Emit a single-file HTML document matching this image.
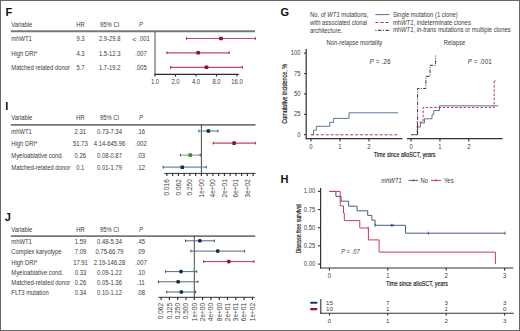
<!DOCTYPE html><html><head><meta charset="utf-8"><style>
html,body{margin:0;padding:0;background:#fff;font-family:"Liberation Sans",sans-serif;}
.wrap{position:relative;width:520px;height:331px;overflow:hidden;background:#fff;}
.wrap svg{position:absolute;left:0;top:0;}
.b{position:absolute;background:#676767;}
</style></head><body><div class="wrap"><svg width="520" height="331" viewBox="0 0 520 331" font-family="'Liberation Sans', sans-serif"><text x="5.4" y="16.3" font-size="11" font-weight="bold" fill="#111">F</text><text x="5.3" y="110" font-size="11" font-weight="bold" fill="#111">I</text><text x="4.8" y="221" font-size="11" font-weight="bold" fill="#111">J</text><text x="280.4" y="15.6" font-size="11" font-weight="bold" fill="#111">G</text><text x="280.5" y="183.3" font-size="11" font-weight="bold" fill="#111">H</text><text transform="translate(11.30,27.00) scale(0.92,1)" font-size="6.4" text-anchor="start" fill="#3a3a3a" >Variable</text><text transform="translate(80.50,27.00) scale(0.92,1)" font-size="6.4" text-anchor="middle" fill="#3a3a3a" >HR</text><text transform="translate(109.70,27.00) scale(0.92,1)" font-size="6.4" text-anchor="middle" fill="#3a3a3a" >95% CI</text><text transform="translate(141.00,27.00) scale(0.92,1)" font-size="6.4" text-anchor="middle" fill="#3a3a3a" font-style="italic">P</text><line x1="10.80" y1="31.20" x2="255.00" y2="31.20" stroke="#777" stroke-width="1.9" /><text transform="translate(11.30,41.30) scale(0.92,1)" font-size="6.4" text-anchor="start" fill="#3a3a3a" >mhWT1</text><text transform="translate(80.50,41.30) scale(0.92,1)" font-size="6.4" text-anchor="middle" fill="#3a3a3a" >9.3</text><text transform="translate(109.70,41.30) scale(0.92,1)" font-size="6.4" text-anchor="middle" fill="#3a3a3a" >2.9-29.8</text><text transform="translate(141.00,41.30) scale(0.92,1)" font-size="6.4" text-anchor="middle" fill="#3a3a3a" ><tspan font-size="8" dy="0.4">&lt;</tspan><tspan dy="-0.4"> .001</tspan></text><text transform="translate(11.30,55.80) scale(0.92,1)" font-size="6.4" text-anchor="start" fill="#3a3a3a" >High DRI*</text><text transform="translate(80.50,55.80) scale(0.92,1)" font-size="6.4" text-anchor="middle" fill="#3a3a3a" >4.3</text><text transform="translate(109.70,55.80) scale(0.92,1)" font-size="6.4" text-anchor="middle" fill="#3a3a3a" >1.5-12.3</text><text transform="translate(141.00,55.80) scale(0.92,1)" font-size="6.4" text-anchor="middle" fill="#3a3a3a" >.007</text><text transform="translate(11.30,70.10) scale(0.92,1)" font-size="6.4" text-anchor="start" fill="#3a3a3a" >Matched related donor</text><text transform="translate(80.50,70.10) scale(0.92,1)" font-size="6.4" text-anchor="middle" fill="#3a3a3a" >5.7</text><text transform="translate(109.70,70.10) scale(0.92,1)" font-size="6.4" text-anchor="middle" fill="#3a3a3a" >1.7-19.2</text><text transform="translate(141.00,70.10) scale(0.92,1)" font-size="6.4" text-anchor="middle" fill="#3a3a3a" >.005</text><line x1="155.00" y1="31.10" x2="155.00" y2="74.60" stroke="#6a6a6a" stroke-width="1.2" /><line x1="154.40" y1="74.40" x2="238.80" y2="74.40" stroke="#2a2a2a" stroke-width="1.1" /><line x1="155.00" y1="74.40" x2="155.00" y2="76.60" stroke="#222" stroke-width="1.1" /><text transform="translate(155.00,84.20) scale(0.92,1)" font-size="6.4" text-anchor="middle" fill="#3a3a3a" >1.0</text><line x1="175.50" y1="74.40" x2="175.50" y2="76.60" stroke="#222" stroke-width="1.1" /><text transform="translate(175.50,84.20) scale(0.92,1)" font-size="6.4" text-anchor="middle" fill="#3a3a3a" >2.0</text><line x1="196.00" y1="74.40" x2="196.00" y2="76.60" stroke="#222" stroke-width="1.1" /><text transform="translate(196.00,84.20) scale(0.92,1)" font-size="6.4" text-anchor="middle" fill="#3a3a3a" >4.0</text><line x1="216.50" y1="74.40" x2="216.50" y2="76.60" stroke="#222" stroke-width="1.1" /><text transform="translate(216.50,84.20) scale(0.92,1)" font-size="6.4" text-anchor="middle" fill="#3a3a3a" >8.0</text><line x1="237.00" y1="74.40" x2="237.00" y2="76.60" stroke="#222" stroke-width="1.1" /><text transform="translate(237.00,84.20) scale(0.92,1)" font-size="6.4" text-anchor="middle" fill="#3a3a3a" >16.0</text><line x1="186.49" y1="38.50" x2="255.30" y2="38.50" stroke="#c4456c" stroke-width="1.2" /><line x1="186.49" y1="37.20" x2="186.49" y2="39.80" stroke="#6a1530" stroke-width="0.9" /><line x1="255.30" y1="37.20" x2="255.30" y2="39.80" stroke="#6a1530" stroke-width="0.9" /><rect x="219.15" y="36.70" width="3.6" height="3.6" rx="0.7" fill="#8c0f30"/><line x1="166.99" y1="52.80" x2="229.22" y2="52.80" stroke="#c4456c" stroke-width="1.2" /><line x1="166.99" y1="51.50" x2="166.99" y2="54.10" stroke="#6a1530" stroke-width="0.9" /><line x1="229.22" y1="51.50" x2="229.22" y2="54.10" stroke="#6a1530" stroke-width="0.9" /><rect x="196.34" y="51.00" width="3.6" height="3.6" rx="0.7" fill="#8c0f30"/><line x1="170.69" y1="67.30" x2="242.39" y2="67.30" stroke="#c4456c" stroke-width="1.2" /><line x1="170.69" y1="66.00" x2="170.69" y2="68.60" stroke="#6a1530" stroke-width="0.9" /><line x1="242.39" y1="66.00" x2="242.39" y2="68.60" stroke="#6a1530" stroke-width="0.9" /><rect x="204.67" y="65.50" width="3.6" height="3.6" rx="0.7" fill="#8c0f30"/><text transform="translate(11.30,120.40) scale(0.92,1)" font-size="6.4" text-anchor="start" fill="#3a3a3a" >Variable</text><text transform="translate(80.30,120.40) scale(0.92,1)" font-size="6.4" text-anchor="middle" fill="#3a3a3a" >HR</text><text transform="translate(109.50,120.40) scale(0.92,1)" font-size="6.4" text-anchor="middle" fill="#3a3a3a" >95% CI</text><text transform="translate(141.00,120.40) scale(0.92,1)" font-size="6.4" text-anchor="middle" fill="#3a3a3a" font-style="italic">P</text><line x1="10.80" y1="124.90" x2="255.50" y2="124.90" stroke="#777" stroke-width="1.9" /><text transform="translate(11.30,133.80) scale(0.92,1)" font-size="6.4" text-anchor="start" fill="#3a3a3a" >mhWT1</text><text transform="translate(80.30,133.80) scale(0.92,1)" font-size="6.4" text-anchor="middle" fill="#3a3a3a" >2.31</text><text transform="translate(109.50,133.80) scale(0.92,1)" font-size="6.4" text-anchor="middle" fill="#3a3a3a" >0.73-7.34</text><text transform="translate(141.00,133.80) scale(0.92,1)" font-size="6.4" text-anchor="middle" fill="#3a3a3a" >.16</text><text transform="translate(11.30,146.00) scale(0.92,1)" font-size="6.4" text-anchor="start" fill="#3a3a3a" >High DRI*</text><text transform="translate(80.30,146.00) scale(0.92,1)" font-size="6.4" text-anchor="middle" fill="#3a3a3a" >51.73</text><text transform="translate(109.50,146.00) scale(0.92,1)" font-size="6.4" text-anchor="middle" fill="#3a3a3a" >4.14-645.96</text><text transform="translate(141.00,146.00) scale(0.92,1)" font-size="6.4" text-anchor="middle" fill="#3a3a3a" >.002</text><text transform="translate(11.30,158.10) scale(0.92,1)" font-size="6.4" text-anchor="start" fill="#3a3a3a" >Myeloablative cond.</text><text transform="translate(80.30,158.10) scale(0.92,1)" font-size="6.4" text-anchor="middle" fill="#3a3a3a" >0.26</text><text transform="translate(109.50,158.10) scale(0.92,1)" font-size="6.4" text-anchor="middle" fill="#3a3a3a" >0.08-0.87</text><text transform="translate(141.00,158.10) scale(0.92,1)" font-size="6.4" text-anchor="middle" fill="#3a3a3a" >.03</text><text transform="translate(11.30,170.30) scale(0.92,1)" font-size="6.4" text-anchor="start" fill="#3a3a3a" >Matched-related donor</text><text transform="translate(80.30,170.30) scale(0.92,1)" font-size="6.4" text-anchor="middle" fill="#3a3a3a" >0.1</text><text transform="translate(109.50,170.30) scale(0.92,1)" font-size="6.4" text-anchor="middle" fill="#3a3a3a" >0.01-1.79</text><text transform="translate(141.00,170.30) scale(0.92,1)" font-size="6.4" text-anchor="middle" fill="#3a3a3a" >.12</text><line x1="201.40" y1="124.60" x2="201.40" y2="173.40" stroke="#333" stroke-width="0.9" /><line x1="164.30" y1="173.40" x2="255.60" y2="173.40" stroke="#333" stroke-width="1.0" /><line x1="166.90" y1="173.40" x2="166.90" y2="175.90" stroke="#222" stroke-width="1.1" /><line x1="172.65" y1="173.40" x2="172.65" y2="175.90" stroke="#222" stroke-width="1.1" /><line x1="178.40" y1="173.40" x2="178.40" y2="175.90" stroke="#222" stroke-width="1.1" /><line x1="184.15" y1="173.40" x2="184.15" y2="175.90" stroke="#222" stroke-width="1.1" /><line x1="189.90" y1="173.40" x2="189.90" y2="175.90" stroke="#222" stroke-width="1.1" /><line x1="195.65" y1="173.40" x2="195.65" y2="175.90" stroke="#222" stroke-width="1.1" /><line x1="201.40" y1="173.40" x2="201.40" y2="175.90" stroke="#222" stroke-width="1.1" /><line x1="207.15" y1="173.40" x2="207.15" y2="175.90" stroke="#222" stroke-width="1.1" /><line x1="212.90" y1="173.40" x2="212.90" y2="175.90" stroke="#222" stroke-width="1.1" /><line x1="218.65" y1="173.40" x2="218.65" y2="175.90" stroke="#222" stroke-width="1.1" /><line x1="224.40" y1="173.40" x2="224.40" y2="175.90" stroke="#222" stroke-width="1.1" /><line x1="230.15" y1="173.40" x2="230.15" y2="175.90" stroke="#222" stroke-width="1.1" /><line x1="235.90" y1="173.40" x2="235.90" y2="175.90" stroke="#222" stroke-width="1.1" /><line x1="241.65" y1="173.40" x2="241.65" y2="175.90" stroke="#222" stroke-width="1.1" /><line x1="247.40" y1="173.40" x2="247.40" y2="175.90" stroke="#222" stroke-width="1.1" /><line x1="253.15" y1="173.40" x2="253.15" y2="175.90" stroke="#222" stroke-width="1.1" /><text transform="translate(169.20,179.2) rotate(-90)" font-size="6.5" text-anchor="end" fill="#3a3a3a">0.016</text><text transform="translate(180.70,179.2) rotate(-90)" font-size="6.5" text-anchor="end" fill="#3a3a3a">0.062</text><text transform="translate(192.20,179.2) rotate(-90)" font-size="6.5" text-anchor="end" fill="#3a3a3a">0.250</text><text transform="translate(203.70,179.2) rotate(-90)" font-size="6.5" text-anchor="end" fill="#3a3a3a">1e+00</text><text transform="translate(215.20,179.2) rotate(-90)" font-size="6.5" text-anchor="end" fill="#3a3a3a">4e+00</text><text transform="translate(226.70,179.2) rotate(-90)" font-size="6.5" text-anchor="end" fill="#3a3a3a">2e+01</text><text transform="translate(238.20,179.2) rotate(-90)" font-size="6.5" text-anchor="end" fill="#3a3a3a">6e+01</text><text transform="translate(249.70,179.2) rotate(-90)" font-size="6.5" text-anchor="end" fill="#3a3a3a">3e+02</text><line x1="198.79" y1="131.00" x2="217.94" y2="131.00" stroke="#6a8ca4" stroke-width="1.2" /><line x1="198.79" y1="129.70" x2="198.79" y2="132.30" stroke="#2e3e48" stroke-width="0.9" /><line x1="217.94" y1="129.70" x2="217.94" y2="132.30" stroke="#2e3e48" stroke-width="0.9" /><rect x="206.55" y="129.20" width="3.6" height="3.6" rx="0.7" fill="#0e3048"/><line x1="213.19" y1="143.10" x2="255.30" y2="143.10" stroke="#c4456c" stroke-width="1.2" /><line x1="213.19" y1="141.80" x2="213.19" y2="144.40" stroke="#6a1530" stroke-width="0.9" /><line x1="255.30" y1="141.80" x2="255.30" y2="144.40" stroke="#6a1530" stroke-width="0.9" /><rect x="232.33" y="141.30" width="3.6" height="3.6" rx="0.7" fill="#8c0f30"/><line x1="180.45" y1="155.10" x2="200.24" y2="155.10" stroke="#86ae74" stroke-width="1.2" /><line x1="180.45" y1="153.80" x2="180.45" y2="156.40" stroke="#2e3a2e" stroke-width="0.9" /><line x1="200.24" y1="153.80" x2="200.24" y2="156.40" stroke="#2e3a2e" stroke-width="0.9" /><rect x="188.43" y="153.30" width="3.6" height="3.6" rx="0.7" fill="#2f8f3a"/><line x1="163.20" y1="167.20" x2="206.23" y2="167.20" stroke="#6a8ca4" stroke-width="1.2" /><line x1="163.20" y1="165.90" x2="163.20" y2="168.50" stroke="#2e3e48" stroke-width="0.9" /><line x1="206.23" y1="165.90" x2="206.23" y2="168.50" stroke="#2e3e48" stroke-width="0.9" /><rect x="180.50" y="165.40" width="3.6" height="3.6" rx="0.7" fill="#0e3048"/><text transform="translate(11.30,231.90) scale(0.92,1)" font-size="6.4" text-anchor="start" fill="#3a3a3a" >Variable</text><text transform="translate(80.50,231.90) scale(0.92,1)" font-size="6.4" text-anchor="middle" fill="#3a3a3a" >HR</text><text transform="translate(109.50,231.90) scale(0.92,1)" font-size="6.4" text-anchor="middle" fill="#3a3a3a" >95% CI</text><text transform="translate(141.00,231.90) scale(0.92,1)" font-size="6.4" text-anchor="middle" fill="#3a3a3a" font-style="italic">P</text><line x1="10.80" y1="236.10" x2="255.20" y2="236.10" stroke="#777" stroke-width="1.9" /><text transform="translate(11.30,244.20) scale(0.92,1)" font-size="6.4" text-anchor="start" fill="#3a3a3a" >mhWT1</text><text transform="translate(80.50,244.20) scale(0.92,1)" font-size="6.4" text-anchor="middle" fill="#3a3a3a" >1.59</text><text transform="translate(109.50,244.20) scale(0.92,1)" font-size="6.4" text-anchor="middle" fill="#3a3a3a" >0.48-5.34</text><text transform="translate(141.00,244.20) scale(0.92,1)" font-size="6.4" text-anchor="middle" fill="#3a3a3a" >.45</text><text transform="translate(11.30,254.40) scale(0.92,1)" font-size="6.4" text-anchor="start" fill="#3a3a3a" >Complex karyotype</text><text transform="translate(80.50,254.40) scale(0.92,1)" font-size="6.4" text-anchor="middle" fill="#3a3a3a" >7.09</text><text transform="translate(109.50,254.40) scale(0.92,1)" font-size="6.4" text-anchor="middle" fill="#3a3a3a" >0.75-66.79</text><text transform="translate(141.00,254.40) scale(0.92,1)" font-size="6.4" text-anchor="middle" fill="#3a3a3a" >.09</text><text transform="translate(11.30,264.50) scale(0.92,1)" font-size="6.4" text-anchor="start" fill="#3a3a3a" >High DRI*</text><text transform="translate(80.50,264.50) scale(0.92,1)" font-size="6.4" text-anchor="middle" fill="#3a3a3a" >17.91</text><text transform="translate(109.50,264.50) scale(0.92,1)" font-size="6.4" text-anchor="middle" fill="#3a3a3a" >2.19-146.28</text><text transform="translate(141.00,264.50) scale(0.92,1)" font-size="6.4" text-anchor="middle" fill="#3a3a3a" >.007</text><text transform="translate(11.30,274.60) scale(0.92,1)" font-size="6.4" text-anchor="start" fill="#3a3a3a" >Myeloablative cond.</text><text transform="translate(80.50,274.60) scale(0.92,1)" font-size="6.4" text-anchor="middle" fill="#3a3a3a" >0.33</text><text transform="translate(109.50,274.60) scale(0.92,1)" font-size="6.4" text-anchor="middle" fill="#3a3a3a" >0.09-1.22</text><text transform="translate(141.00,274.60) scale(0.92,1)" font-size="6.4" text-anchor="middle" fill="#3a3a3a" >.10</text><text transform="translate(11.30,284.80) scale(0.92,1)" font-size="6.4" text-anchor="start" fill="#3a3a3a" >Matched-related donor</text><text transform="translate(80.50,284.80) scale(0.92,1)" font-size="6.4" text-anchor="middle" fill="#3a3a3a" >0.26</text><text transform="translate(109.50,284.80) scale(0.92,1)" font-size="6.4" text-anchor="middle" fill="#3a3a3a" >0.05-1.36</text><text transform="translate(141.00,284.80) scale(0.92,1)" font-size="6.4" text-anchor="middle" fill="#3a3a3a" >.11</text><text transform="translate(11.30,295.00) scale(0.92,1)" font-size="6.4" text-anchor="start" fill="#3a3a3a" >FLT3 mutation</text><text transform="translate(80.50,295.00) scale(0.92,1)" font-size="6.4" text-anchor="middle" fill="#3a3a3a" >0.34</text><text transform="translate(109.50,295.00) scale(0.92,1)" font-size="6.4" text-anchor="middle" fill="#3a3a3a" >0.10-1.12</text><text transform="translate(141.00,295.00) scale(0.92,1)" font-size="6.4" text-anchor="middle" fill="#3a3a3a" >.08</text><line x1="194.30" y1="235.90" x2="194.30" y2="297.50" stroke="#333" stroke-width="0.9" /><line x1="158.40" y1="297.30" x2="254.70" y2="297.30" stroke="#333" stroke-width="1.0" /><line x1="161.10" y1="297.30" x2="161.10" y2="299.90" stroke="#222" stroke-width="1.1" /><text transform="translate(163.40,302.9) rotate(-90)" font-size="6.5" text-anchor="end" fill="#3a3a3a">0.062</text><line x1="169.40" y1="297.30" x2="169.40" y2="299.90" stroke="#222" stroke-width="1.1" /><text transform="translate(171.70,302.9) rotate(-90)" font-size="6.5" text-anchor="end" fill="#3a3a3a">0.125</text><line x1="177.70" y1="297.30" x2="177.70" y2="299.90" stroke="#222" stroke-width="1.1" /><text transform="translate(180.00,302.9) rotate(-90)" font-size="6.5" text-anchor="end" fill="#3a3a3a">0.250</text><line x1="186.00" y1="297.30" x2="186.00" y2="299.90" stroke="#222" stroke-width="1.1" /><text transform="translate(188.30,302.9) rotate(-90)" font-size="6.5" text-anchor="end" fill="#3a3a3a">0.500</text><line x1="194.30" y1="297.30" x2="194.30" y2="299.90" stroke="#222" stroke-width="1.1" /><text transform="translate(196.60,302.9) rotate(-90)" font-size="6.5" text-anchor="end" fill="#3a3a3a">1e+00</text><line x1="202.60" y1="297.30" x2="202.60" y2="299.90" stroke="#222" stroke-width="1.1" /><text transform="translate(204.90,302.9) rotate(-90)" font-size="6.5" text-anchor="end" fill="#3a3a3a">2e+00</text><line x1="210.90" y1="297.30" x2="210.90" y2="299.90" stroke="#222" stroke-width="1.1" /><text transform="translate(213.20,302.9) rotate(-90)" font-size="6.5" text-anchor="end" fill="#3a3a3a">4e+00</text><line x1="219.20" y1="297.30" x2="219.20" y2="299.90" stroke="#222" stroke-width="1.1" /><text transform="translate(221.50,302.9) rotate(-90)" font-size="6.5" text-anchor="end" fill="#3a3a3a">8e+00</text><line x1="227.50" y1="297.30" x2="227.50" y2="299.90" stroke="#222" stroke-width="1.1" /><text transform="translate(229.80,302.9) rotate(-90)" font-size="6.5" text-anchor="end" fill="#3a3a3a">2e+01</text><line x1="235.80" y1="297.30" x2="235.80" y2="299.90" stroke="#222" stroke-width="1.1" /><text transform="translate(238.10,302.9) rotate(-90)" font-size="6.5" text-anchor="end" fill="#3a3a3a">3e+01</text><line x1="244.10" y1="297.30" x2="244.10" y2="299.90" stroke="#222" stroke-width="1.1" /><text transform="translate(246.40,302.9) rotate(-90)" font-size="6.5" text-anchor="end" fill="#3a3a3a">6e+01</text><line x1="252.40" y1="297.30" x2="252.40" y2="299.90" stroke="#222" stroke-width="1.1" /><text transform="translate(254.70,302.9) rotate(-90)" font-size="6.5" text-anchor="end" fill="#3a3a3a">1e+02</text><line x1="185.51" y1="240.80" x2="214.36" y2="240.80" stroke="#4f6a85" stroke-width="1.0" /><line x1="185.51" y1="239.50" x2="185.51" y2="242.10" stroke="#2e3e48" stroke-width="0.9" /><line x1="214.36" y1="239.50" x2="214.36" y2="242.10" stroke="#2e3e48" stroke-width="0.9" /><rect x="198.05" y="239.00" width="3.6" height="3.6" rx="1.4" fill="#0f2d4d"/><line x1="190.86" y1="251.10" x2="244.61" y2="251.10" stroke="#4f6a85" stroke-width="1.0" /><line x1="190.86" y1="249.80" x2="190.86" y2="252.40" stroke="#2e3e48" stroke-width="0.9" /><line x1="244.61" y1="249.80" x2="244.61" y2="252.40" stroke="#2e3e48" stroke-width="0.9" /><rect x="215.95" y="249.30" width="3.6" height="3.6" rx="1.4" fill="#0f2d4d"/><line x1="203.69" y1="261.60" x2="254.00" y2="261.60" stroke="#b8385a" stroke-width="1.0" /><line x1="203.69" y1="260.30" x2="203.69" y2="262.90" stroke="#6a1530" stroke-width="0.9" /><line x1="254.00" y1="260.30" x2="254.00" y2="262.90" stroke="#6a1530" stroke-width="0.9" /><rect x="227.05" y="259.80" width="3.6" height="3.6" rx="1.4" fill="#9a0f30"/><line x1="165.47" y1="271.60" x2="196.68" y2="271.60" stroke="#4f6a85" stroke-width="1.0" /><line x1="165.47" y1="270.30" x2="165.47" y2="272.90" stroke="#2e3e48" stroke-width="0.9" /><line x1="196.68" y1="270.30" x2="196.68" y2="272.90" stroke="#2e3e48" stroke-width="0.9" /><rect x="179.22" y="269.80" width="3.6" height="3.6" rx="1.4" fill="#0f2d4d"/><line x1="158.50" y1="281.80" x2="197.98" y2="281.80" stroke="#4f6a85" stroke-width="1.0" /><line x1="158.50" y1="280.50" x2="158.50" y2="283.10" stroke="#2e3e48" stroke-width="0.9" /><line x1="197.98" y1="280.50" x2="197.98" y2="283.10" stroke="#2e3e48" stroke-width="0.9" /><rect x="176.37" y="280.00" width="3.6" height="3.6" rx="1.4" fill="#0f2d4d"/><line x1="166.73" y1="292.00" x2="195.66" y2="292.00" stroke="#4f6a85" stroke-width="1.0" /><line x1="166.73" y1="290.70" x2="166.73" y2="293.30" stroke="#2e3e48" stroke-width="0.9" /><line x1="195.66" y1="290.70" x2="195.66" y2="293.30" stroke="#2e3e48" stroke-width="0.9" /><rect x="179.58" y="290.20" width="3.6" height="3.6" rx="1.4" fill="#0f2d4d"/><text transform="translate(310.00,16.60) scale(0.92,1)" font-size="6.4" text-anchor="start" fill="#3a3a3a" >No. of <tspan font-style="italic">WT1</tspan> mutations,</text><text transform="translate(310.00,24.60) scale(0.92,1)" font-size="6.4" text-anchor="start" fill="#3a3a3a" >with associated clonal</text><text transform="translate(310.00,32.60) scale(0.92,1)" font-size="6.4" text-anchor="start" fill="#3a3a3a" >architecture.</text><line x1="375.40" y1="14.60" x2="389.60" y2="14.60" stroke="#4d6f95" stroke-width="1.0" /><line x1="375.40" y1="22.50" x2="389.60" y2="22.50" stroke="#a8385a" stroke-width="1.0" stroke-dasharray="3.2,1.8"/><line x1="375.40" y1="30.30" x2="389.60" y2="30.30" stroke="#222" stroke-width="1.0" stroke-dasharray="1,1.6,3.6,1.4"/><text transform="translate(392.90,16.60) scale(0.92,1)" font-size="6.4" text-anchor="start" fill="#3a3a3a" >Single mutation (1 clone)</text><text transform="translate(392.90,24.50) scale(0.92,1)" font-size="6.4" text-anchor="start" fill="#3a3a3a" >mh<tspan font-style="italic">WT1</tspan>, indeterminate clones</text><text transform="translate(392.90,32.00) scale(0.92,1)" font-size="6.4" text-anchor="start" fill="#3a3a3a" >mh<tspan font-style="italic">WT1</tspan>, <tspan font-style="italic">in-trans</tspan> mutations or multiple clones</text><text transform="translate(354.40,45.10) scale(0.92,1)" font-size="6.4" text-anchor="middle" fill="#3a3a3a" >Non-relapse mortality</text><text transform="translate(454.50,45.10) scale(0.92,1)" font-size="6.4" text-anchor="middle" fill="#3a3a3a" >Relapse</text><line x1="306.20" y1="49.00" x2="306.20" y2="139.20" stroke="#333" stroke-width="1.2" /><line x1="305.70" y1="138.70" x2="402.40" y2="138.70" stroke="#333" stroke-width="1.2" /><line x1="304.00" y1="134.70" x2="306.20" y2="134.70" stroke="#222" stroke-width="1.0" /><text transform="translate(300.60,136.75) scale(0.92,1)" font-size="6.4" text-anchor="end" fill="#3a3a3a" >0</text><line x1="304.00" y1="114.32" x2="306.20" y2="114.32" stroke="#222" stroke-width="1.0" /><text transform="translate(300.60,116.37) scale(0.92,1)" font-size="6.4" text-anchor="end" fill="#3a3a3a" >25</text><line x1="304.00" y1="93.95" x2="306.20" y2="93.95" stroke="#222" stroke-width="1.0" /><text transform="translate(300.60,96.00) scale(0.92,1)" font-size="6.4" text-anchor="end" fill="#3a3a3a" >50</text><line x1="304.00" y1="73.57" x2="306.20" y2="73.57" stroke="#222" stroke-width="1.0" /><text transform="translate(300.60,75.62) scale(0.92,1)" font-size="6.4" text-anchor="end" fill="#3a3a3a" >75</text><line x1="304.00" y1="53.20" x2="306.20" y2="53.20" stroke="#222" stroke-width="1.0" /><text transform="translate(300.60,55.25) scale(0.92,1)" font-size="6.4" text-anchor="end" fill="#3a3a3a" >100</text><line x1="311.00" y1="138.70" x2="311.00" y2="141.50" stroke="#222" stroke-width="1.0" /><text transform="translate(311.00,149.10) scale(0.92,1)" font-size="6.4" text-anchor="middle" fill="#3a3a3a" >0</text><line x1="340.00" y1="138.70" x2="340.00" y2="141.50" stroke="#222" stroke-width="1.0" /><text transform="translate(340.00,149.10) scale(0.92,1)" font-size="6.4" text-anchor="middle" fill="#3a3a3a" >1</text><line x1="369.00" y1="138.70" x2="369.00" y2="141.50" stroke="#222" stroke-width="1.0" /><text transform="translate(369.00,149.10) scale(0.92,1)" font-size="6.4" text-anchor="middle" fill="#3a3a3a" >2</text><line x1="407.00" y1="138.70" x2="502.60" y2="138.70" stroke="#333" stroke-width="1.2" /><line x1="411.10" y1="138.70" x2="411.10" y2="141.50" stroke="#222" stroke-width="1.0" /><text transform="translate(411.10,149.10) scale(0.92,1)" font-size="6.4" text-anchor="middle" fill="#3a3a3a" >0</text><line x1="439.95" y1="138.70" x2="439.95" y2="141.50" stroke="#222" stroke-width="1.0" /><text transform="translate(439.95,149.10) scale(0.92,1)" font-size="6.4" text-anchor="middle" fill="#3a3a3a" >1</text><line x1="468.80" y1="138.70" x2="468.80" y2="141.50" stroke="#222" stroke-width="1.0" /><text transform="translate(468.80,149.10) scale(0.92,1)" font-size="6.4" text-anchor="middle" fill="#3a3a3a" >2</text><text transform="translate(404.6,157.4) scale(0.727,1)" font-size="7.4" text-anchor="middle" fill="#111" stroke="#111" stroke-width="0.15">Time since alloSCT, years</text><text transform="translate(287.2,93.75) rotate(-90) scale(0.74,1)" font-size="7.4" text-anchor="middle" fill="#111" stroke="#111" stroke-width="0.15">Cumulative incidence, %</text><text transform="translate(369.60,64.10) scale(1.03,1)" font-size="6.4" text-anchor="start" fill="#3a3a3a" ><tspan font-style="italic">P</tspan> = .26</text><text transform="translate(467.80,63.90) scale(1.0,1)" font-size="6.4" text-anchor="start" fill="#3a3a3a" ><tspan font-style="italic">P</tspan> = .001</text><polyline points="311.00,134.70 313.50,134.70 313.50,130.30 316.30,130.30 316.30,126.30 329.80,126.30 329.80,122.30 333.60,122.30 333.60,118.40 349.00,118.40 349.00,112.80 398.00,112.80" fill="none" stroke="#4b6a8c" stroke-width="0.9" /><line x1="311.00" y1="134.80" x2="398.00" y2="134.80" stroke="#b83a62" stroke-width="1.0" stroke-dasharray="3.1,1.8"/><polyline points="411.10,134.70 417.50,134.70 417.50,127.10 420.40,127.10 420.40,122.90 424.50,122.90 424.50,118.80 432.00,118.80 432.00,114.70 433.70,114.70 433.70,110.60 439.50,110.60 439.50,105.80 498.30,105.80" fill="none" stroke="#4b6a8c" stroke-width="0.9" /><polyline points="411.10,134.70 417.20,134.70 417.20,122.20 423.10,122.20 423.10,107.40 494.20,107.40 494.20,80.30 496.20,80.30" fill="none" stroke="#b83a62" stroke-width="1.0" stroke-dasharray="2.6,1.6"/><polyline points="417.60,134.70 417.60,88.50 425.90,88.50 425.90,76.40 430.00,76.40 430.00,65.30 435.60,65.30 435.60,55.50" fill="none" stroke="#222" stroke-width="0.9" stroke-dasharray="3.6,1.4,1,1.4"/><text transform="translate(381.20,183.10) scale(0.92,1)" font-size="6.4" text-anchor="start" fill="#3a3a3a" font-style="italic">mhWT1</text><line x1="408.50" y1="180.40" x2="418.10" y2="180.40" stroke="#44607e" stroke-width="1.0" /><line x1="413.30" y1="179.00" x2="413.30" y2="181.80" stroke="#44607e" stroke-width="0.7" /><text transform="translate(420.60,182.50) scale(0.92,1)" font-size="6.4" text-anchor="start" fill="#3a3a3a" >No</text><line x1="431.00" y1="180.40" x2="441.10" y2="180.40" stroke="#c23c62" stroke-width="1.0" /><line x1="436.00" y1="179.00" x2="436.00" y2="181.80" stroke="#c23c62" stroke-width="0.7" /><text transform="translate(444.00,182.50) scale(0.92,1)" font-size="6.4" text-anchor="start" fill="#3a3a3a" >Yes</text><line x1="320.60" y1="188.00" x2="320.60" y2="268.60" stroke="#333" stroke-width="1.2" /><line x1="320.10" y1="268.00" x2="513.30" y2="268.00" stroke="#333" stroke-width="1.2" /><line x1="317.90" y1="191.40" x2="320.60" y2="191.40" stroke="#222" stroke-width="1.0" /><text transform="translate(315.20,193.45) scale(0.92,1)" font-size="6.4" text-anchor="end" fill="#3a3a3a" >1.00</text><line x1="317.90" y1="209.58" x2="320.60" y2="209.58" stroke="#222" stroke-width="1.0" /><text transform="translate(315.20,211.63) scale(0.92,1)" font-size="6.4" text-anchor="end" fill="#3a3a3a" >0.75</text><line x1="317.90" y1="227.75" x2="320.60" y2="227.75" stroke="#222" stroke-width="1.0" /><text transform="translate(315.20,229.80) scale(0.92,1)" font-size="6.4" text-anchor="end" fill="#3a3a3a" >0.50</text><line x1="317.90" y1="245.93" x2="320.60" y2="245.93" stroke="#222" stroke-width="1.0" /><text transform="translate(315.20,247.98) scale(0.92,1)" font-size="6.4" text-anchor="end" fill="#3a3a3a" >0.25</text><line x1="317.90" y1="264.10" x2="320.60" y2="264.10" stroke="#222" stroke-width="1.0" /><text transform="translate(315.20,266.15) scale(0.92,1)" font-size="6.4" text-anchor="end" fill="#3a3a3a" >0.00</text><line x1="329.40" y1="268.00" x2="329.40" y2="270.60" stroke="#222" stroke-width="1.0" /><text transform="translate(329.40,277.60) scale(0.92,1)" font-size="6.4" text-anchor="middle" fill="#3a3a3a" >0</text><line x1="387.80" y1="268.00" x2="387.80" y2="270.60" stroke="#222" stroke-width="1.0" /><text transform="translate(387.80,277.60) scale(0.92,1)" font-size="6.4" text-anchor="middle" fill="#3a3a3a" >1</text><line x1="446.20" y1="268.00" x2="446.20" y2="270.60" stroke="#222" stroke-width="1.0" /><text transform="translate(446.20,277.60) scale(0.92,1)" font-size="6.4" text-anchor="middle" fill="#3a3a3a" >2</text><line x1="504.60" y1="268.00" x2="504.60" y2="270.60" stroke="#222" stroke-width="1.0" /><text transform="translate(504.60,277.60) scale(0.92,1)" font-size="6.4" text-anchor="middle" fill="#3a3a3a" >3</text><text transform="translate(417.0,286.4) scale(0.727,1)" font-size="7.4" text-anchor="middle" fill="#111" stroke="#111" stroke-width="0.15">Time since alloSCT, years</text><text transform="translate(300.9,228.9) rotate(-90) scale(0.72,1)" font-size="7.4" text-anchor="middle" fill="#111" stroke="#111" stroke-width="0.15">Disease free survival</text><text transform="translate(341.20,253.70) scale(0.92,1)" font-size="6.4" text-anchor="start" fill="#3a3a3a" font-style="italic">P = .07</text><polyline points="329.40,191.40 335.90,191.40 335.90,196.40 341.10,196.40 341.10,201.20 348.60,201.20 348.60,206.20 357.10,206.20 357.10,210.80 367.70,210.80 367.70,215.40 371.90,215.40 371.90,220.20 375.10,220.20 375.10,225.30 405.50,225.30 405.50,233.20 505.00,233.20" fill="none" stroke="#44607e" stroke-width="1.0" /><line x1="375.10" y1="223.80" x2="375.10" y2="226.80" stroke="#2a3a4a" stroke-width="0.8" /><line x1="391.30" y1="223.80" x2="391.30" y2="226.80" stroke="#2a3a4a" stroke-width="0.8" /><line x1="393.00" y1="223.80" x2="393.00" y2="226.80" stroke="#2a3a4a" stroke-width="0.8" /><line x1="428.30" y1="231.70" x2="428.30" y2="234.70" stroke="#2a3a4a" stroke-width="0.8" /><line x1="505.00" y1="231.70" x2="505.00" y2="234.70" stroke="#2a3a4a" stroke-width="0.8" /><polyline points="329.40,191.40 340.20,191.40 340.20,205.90 343.50,205.90 343.50,213.10 344.30,213.10 344.30,220.60 359.80,220.60 359.80,228.00 368.40,228.00 368.40,239.90 379.10,239.90 379.10,252.10 495.40,252.10 495.40,264.10" fill="none" stroke="#c23c62" stroke-width="1.0" /><line x1="368.20" y1="226.50" x2="368.20" y2="229.50" stroke="#c23c62" stroke-width="0.8" /><rect x="310.2" y="301.7" width="7.1" height="2.1" rx="0.6" fill="#173d6a"/><rect x="310.2" y="308.1" width="7.1" height="2.1" rx="0.6" fill="#a3122f"/><line x1="320.80" y1="298.90" x2="320.80" y2="313.80" stroke="#333" stroke-width="1.1" /><line x1="320.30" y1="313.30" x2="513.80" y2="313.30" stroke="#333" stroke-width="1.1" /><text transform="translate(329.40,305.00) scale(1.0,1)" font-size="6.2" text-anchor="middle" fill="#3a3a3a" >15</text><text transform="translate(329.40,311.30) scale(1.0,1)" font-size="6.2" text-anchor="middle" fill="#3a3a3a" >10</text><line x1="329.40" y1="313.30" x2="329.40" y2="315.60" stroke="#222" stroke-width="1.0" /><text transform="translate(329.40,323.20) scale(1.0,1)" font-size="6.2" text-anchor="middle" fill="#3a3a3a" >0</text><text transform="translate(387.80,305.00) scale(1.0,1)" font-size="6.2" text-anchor="middle" fill="#3a3a3a" >7</text><text transform="translate(387.80,311.30) scale(1.0,1)" font-size="6.2" text-anchor="middle" fill="#3a3a3a" >1</text><line x1="387.80" y1="313.30" x2="387.80" y2="315.60" stroke="#222" stroke-width="1.0" /><text transform="translate(387.80,323.20) scale(1.0,1)" font-size="6.2" text-anchor="middle" fill="#3a3a3a" >1</text><text transform="translate(446.20,305.00) scale(1.0,1)" font-size="6.2" text-anchor="middle" fill="#3a3a3a" >3</text><text transform="translate(446.20,311.30) scale(1.0,1)" font-size="6.2" text-anchor="middle" fill="#3a3a3a" >1</text><line x1="446.20" y1="313.30" x2="446.20" y2="315.60" stroke="#222" stroke-width="1.0" /><text transform="translate(446.20,323.20) scale(1.0,1)" font-size="6.2" text-anchor="middle" fill="#3a3a3a" >2</text><text transform="translate(504.60,305.00) scale(1.0,1)" font-size="6.2" text-anchor="middle" fill="#3a3a3a" >3</text><text transform="translate(504.60,311.30) scale(1.0,1)" font-size="6.2" text-anchor="middle" fill="#3a3a3a" >0</text><line x1="504.60" y1="313.30" x2="504.60" y2="315.60" stroke="#222" stroke-width="1.0" /><text transform="translate(504.60,323.20) scale(1.0,1)" font-size="6.2" text-anchor="middle" fill="#3a3a3a" >3</text></svg>
<div class="b" style="left:0;top:0;width:520px;height:1px"></div>
<div class="b" style="left:0;top:0;width:1px;height:331px"></div>
<div class="b" style="left:0;top:330px;width:520px;height:1px"></div>
<div class="b" style="left:519px;top:0;width:1px;height:331px"></div>
</div></body></html>
